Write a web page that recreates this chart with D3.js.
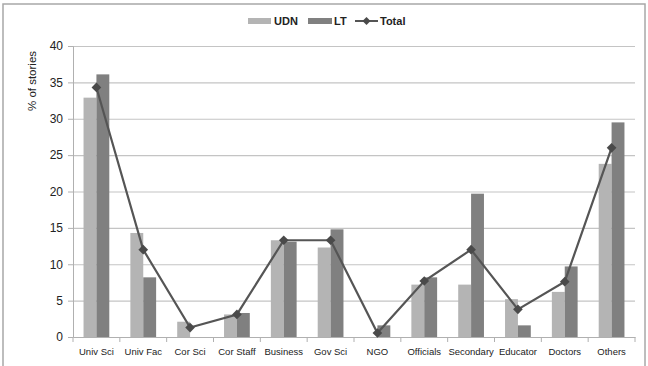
<!DOCTYPE html>
<html><head><meta charset="utf-8">
<script src="https://cdn.jsdelivr.net/npm/d3@7/dist/d3.min.js"></script>
<style>html,body{margin:0;padding:0;background:#fff;}svg{display:block;}</style>
</head><body><svg id="c" width="648" height="366"></svg>
<script>
const categories = ["Univ Sci","Univ Fac","Cor Sci","Cor Staff","Business","Gov Sci","NGO","Officials","Secondary","Educator","Doctors","Others"];
const udn   = [32.9,14.3,2.1,3.1,13.3,12.3,0,7.2,7.2,5.2,6.2,23.8];
const lt    = [36.1,8.2,0,3.3,13.1,14.8,1.6,8.2,19.7,1.6,9.7,29.5];
const total = [34.3,12.0,1.3,3.1,13.3,13.3,0.55,7.7,12.0,3.8,7.6,26.0];
const yTicks = [0,5,10,15,20,25,30,35,40];
const seriesNames = ["UDN","LT","Total"];

const svg = d3.select("#c");
const colUDN = "#b4b4b4", colLT = "#808080", colLine = "#555555";
const L = 73, R = 635, T = 46, B = 337;

// outer frame
svg.append("rect").attr("x",3).attr("y",4).attr("width",642).attr("height",366).attr("fill","none").attr("stroke","#a8a8a8").attr("stroke-width",1.5);

const x = d3.scaleBand().domain(categories).range([L,R]).paddingInner(0.45).paddingOuter(0.225);
const x0 = d3.scaleBand().domain(categories).range([L,R]);
const xs = d3.scaleBand().domain(["UDN","LT"]).range([0,x.bandwidth()]);
const y = d3.scaleLinear().domain([0,40]).range([B,T]);

// gridlines
svg.append("g").selectAll("line").data(yTicks.filter(d=>d>0)).join("line")
  .attr("x1",L).attr("x2",R).attr("y1",d=>y(d)+0.5).attr("y2",d=>y(d)+0.5)
  .attr("stroke","#c4c4c4").attr("stroke-width",1.2);

// y axis
const ya = svg.append("g").attr("transform",`translate(${L},0)`).call(d3.axisLeft(y).tickValues(yTicks).tickSize(5).tickPadding(5));
ya.select(".domain").attr("stroke","#b0b0b0");
ya.selectAll(".tick line").attr("stroke","#b0b0b0");
ya.selectAll("text").attr("font-family","Liberation Sans, Arial, sans-serif").attr("font-size",12).attr("fill","#222");

// x axis
const xa = svg.append("g").attr("transform",`translate(0,${B})`).call(d3.axisBottom(x0).tickSize(0).tickPadding(11));
xa.select(".domain").attr("stroke","#b0b0b0");
xa.selectAll("text").attr("font-family","Liberation Sans Narrow, Liberation Sans, Arial, sans-serif").attr("font-size",9.5).attr("fill","#222");
// boundary ticks
svg.append("g").selectAll("line").data(d3.range(categories.length+1)).join("line")
  .attr("x1",i=>L+i*x0.step()).attr("x2",i=>L+i*x0.step()).attr("y1",B).attr("y2",B+5)
  .attr("stroke","#b0b0b0");

// bars
const g = svg.append("g");
g.selectAll(".udn").data(categories).join("rect")
  .attr("x",(c)=>x(c)+xs("UDN")).attr("width",xs.bandwidth())
  .attr("y",(c,i)=>y(udn[i])).attr("height",(c,i)=>B-y(udn[i])).attr("fill",colUDN);
g.selectAll(".lt").data(categories).join("rect")
  .attr("x",(c)=>x(c)+xs("LT")).attr("width",xs.bandwidth())
  .attr("y",(c,i)=>y(lt[i])).attr("height",(c,i)=>B-y(lt[i])).attr("fill",colLT);

// line
const line = d3.line().x((d,i)=>x0(categories[i])+x0.bandwidth()/2).y(d=>y(d));
svg.append("path").datum(total).attr("d",line).attr("fill","none").attr("stroke",colLine).attr("stroke-width",2.2);
svg.append("g").selectAll("path").data(total).join("path")
  .attr("transform",(d,i)=>`translate(${x0(categories[i])+x0.bandwidth()/2},${y(d)})`)
  .attr("d",d3.symbol().type(d3.symbolDiamond2).size(60)).attr("fill","#4a4a4a");

// y label
svg.append("text").attr("transform","translate(36,81) rotate(-90)").attr("text-anchor","middle")
  .attr("font-family","Liberation Sans, Arial, sans-serif").attr("font-size",11.5).attr("fill","#222").text("% of stories");

// legend
const lg = svg.append("g").attr("font-family","Liberation Sans Narrow, Liberation Sans, Arial, sans-serif").attr("font-size",11).attr("font-weight","bold").attr("fill","#222");
lg.append("rect").attr("x",248).attr("y",18).attr("width",23).attr("height",6).attr("fill",colUDN);
lg.append("text").attr("x",274).attr("y",24.5).text(seriesNames[0]);
lg.append("rect").attr("x",308).attr("y",18).attr("width",24).attr("height",6).attr("fill",colLT);
lg.append("text").attr("x",334).attr("y",24.5).text(seriesNames[1]);
lg.append("line").attr("x1",355).attr("x2",378).attr("y1",21).attr("y2",21).attr("stroke",colLine).attr("stroke-width",2);
lg.append("path").attr("transform","translate(366.5,21)").attr("d",d3.symbol().type(d3.symbolDiamond2).size(40)).attr("fill","#4a4a4a");
lg.append("text").attr("x",380).attr("y",24.5).text(seriesNames[2]);
</script></body></html>
